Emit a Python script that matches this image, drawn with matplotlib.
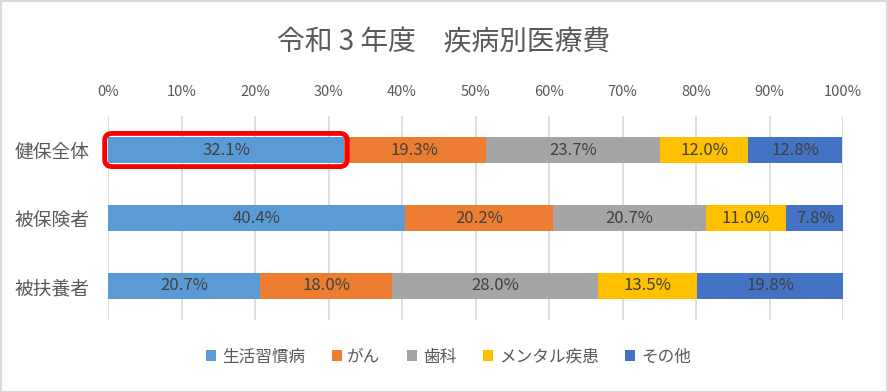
import matplotlib
matplotlib.use("Agg")
import matplotlib.pyplot as plt
import numpy as np
from matplotlib.patches import FancyBboxPatch, Patch, Rectangle

plt.rcParams['font.family'] = ['Noto Sans CJK JP', 'DejaVu Sans']

title = "令和 3 年度　疾病別医療費"
groups = ["健保全体", "被保険者", "被扶養者"]
series = ["生活習慣病", "がん", "歯科", "メンタル疾患", "その他"]
colors = ["#5B9BD5", "#ED7D31", "#A5A5A5", "#FFC000", "#4472C4"]
values = np.array([
    [32.1, 19.3, 23.7, 12.0, 12.8],
    [40.4, 20.2, 20.7, 11.0, 7.8],
    [20.7, 18.0, 28.0, 13.5, 19.8],
])
xticks = [0, 10, 20, 30, 40, 50, 60, 70, 80, 90, 100]

fig = plt.figure(figsize=(8.88, 3.92), dpi=100)
ax = fig.add_axes([108 / 888, 72 / 392, 735 / 888, 204 / 392])

y = np.arange(len(groups))
left = np.zeros(len(groups))
for i, name in enumerate(series):
    vals = values[:, i]
    bars = ax.barh(y, vals, left=left, height=0.39, color=colors[i], label=name, zorder=2)
    for b, v in zip(bars, vals):
        ax.text(b.get_x() + b.get_width() / 2, b.get_y() + b.get_height() / 2,
                f"{v:.1f}%", ha="center", va="center", fontsize=12,
                color="#404040", zorder=3)
    left += vals

ax.set_xlim(0, 100)
ax.set_ylim(2.5, -0.5)
ax.set_yticks(y)
ax.set_yticklabels(groups, fontsize=13.5, color="#595959")
ax.set_xticks(xticks)
ax.set_xticklabels([f"{t}%" for t in xticks], fontsize=10.5, color="#595959")
ax.xaxis.tick_top()
ax.tick_params(axis="x", length=0, pad=12)
ax.tick_params(axis="y", length=0, pad=13)
ax.grid(axis="x", color="#D9D9D9", linewidth=1.2, zorder=0)
for s in ax.spines.values():
    s.set_visible(False)

# red highlight around first segment of the first row
h = 0.39
box = FancyBboxPatch((0, 0 - h / 2), values[0, 0], h,
                     boxstyle="round,pad=0.45,rounding_size=1.0",
                     mutation_aspect=0.108, fill=False, edgecolor="#FF0000",
                     linewidth=3.5, clip_on=False, zorder=4)
ax.add_patch(box)

fig.text(0.5, 0.893, title, ha="center", va="center", fontsize=20, color="#595959")

handles = [Patch(facecolor=c, edgecolor="none") for c in colors]
fig.legend(handles, series, loc="center", bbox_to_anchor=(0.505, 0.089), ncol=5,
           frameon=False, fontsize=12, handlelength=0.6, handleheight=0.6,
           handletextpad=0.35, columnspacing=1.6, labelcolor="#595959")

fig.patches.append(Rectangle((0.5 / 888, 0.5 / 392), 1 - 1.5 / 888, 1 - 1.5 / 392,
                             transform=fig.transFigure, fill=False,
                             edgecolor="#D9D9D9", linewidth=1.5))

fig.savefig("out.png", dpi=100)
